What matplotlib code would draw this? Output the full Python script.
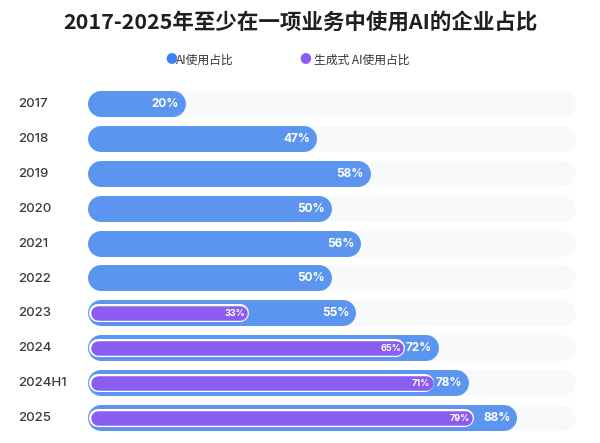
import matplotlib.pyplot as plt

plt.rcParams['font.family'] = ['Noto Sans CJK SC', 'DejaVu Sans']

years = ['2017', '2018', '2019', '2020', '2021', '2022', '2023', '2024', '2024H1', '2025']
ai_use = [20, 47, 58, 50, 56, 50, 55, 72, 78, 88]
genai_use = [None, None, None, None, None, None, 33, 65, 71, 79]

blue = '#5b95f0'
purple = '#8b5cf0'
track = '#f7f9fb'
latin = ['Inter', 'Noto Sans CJK SC']

W, H, DPI = 600, 443, 100
fig = plt.figure(figsize=(W / DPI, H / DPI), dpi=DPI)
fig.patch.set_facecolor('white')

# axes in pixel terms
left, right = 88, 576
top, bottom = 86.5, 435.5
ax = fig.add_axes([left / W, 1 - bottom / H, (right - left) / W, (bottom - top) / H])
ax.set_xlim(0, 100)
ax.set_ylim(len(years) - 0.5, -0.5)
ax.axis('off')

px_per_unit = (right - left) / 100.0
pt = 72.0 / DPI


def rbar(y, x0, x1, h_px, color, z):
    r = h_px / 2 / px_per_unit
    ax.plot([x0 + r, max(x1 - r, x0 + r)], [y, y], color=color, lw=h_px * pt,
            solid_capstyle='round', zorder=z)


for i, (yr, v) in enumerate(zip(years, ai_use)):
    rbar(i, 0, 100, 26, track, 1)
    rbar(i, 0, v, 26, blue, 2)
    ax.text(v - 7 / px_per_unit, i, f'{v}%', color='white', fontsize=8.5,
            fontweight='bold', ha='right', va='center', zorder=6, family=latin)
    fig.text(18 / W, 1 - (104 + i * 34.9) / H, yr, fontsize=9.5, color='#3a3a3a',
             ha='left', va='center', family=latin, fontweight='medium')
    g = genai_use[i]
    if g is not None:
        rbar(i, 0.3, g, 18, 'white', 3)
        rbar(i, 0.6, g - 0.3, 14.5, purple, 4)
        ax.text(g - 4 / px_per_unit, i, f'{g}%', color='white', fontsize=6.5,
                fontweight='bold', ha='right', va='center', zorder=6, family=latin)

fig.text(0.5, 1 - 22 / H, '2017-2025年至少在一项业务中使用AI的企业占比', fontsize=15.5,
         fontweight='bold', color='#1f1f1f', ha='center', va='center')

fig.text(171 / W, 1 - 60 / H, '●', color='#3b82f6', fontsize=8.5, ha='center', va='center')
fig.text(176 / W, 1 - 60 / H, 'AI使用占比', color='#333333', fontsize=8.5, ha='left', va='center')
fig.text(305 / W, 1 - 60 / H, '●', color='#8b5cf6', fontsize=8.5, ha='center', va='center')
fig.text(314 / W, 1 - 60 / H, '生成式 AI使用占比', color='#333333', fontsize=8.5, ha='left', va='center')

fig.savefig('out.png', dpi=DPI)
